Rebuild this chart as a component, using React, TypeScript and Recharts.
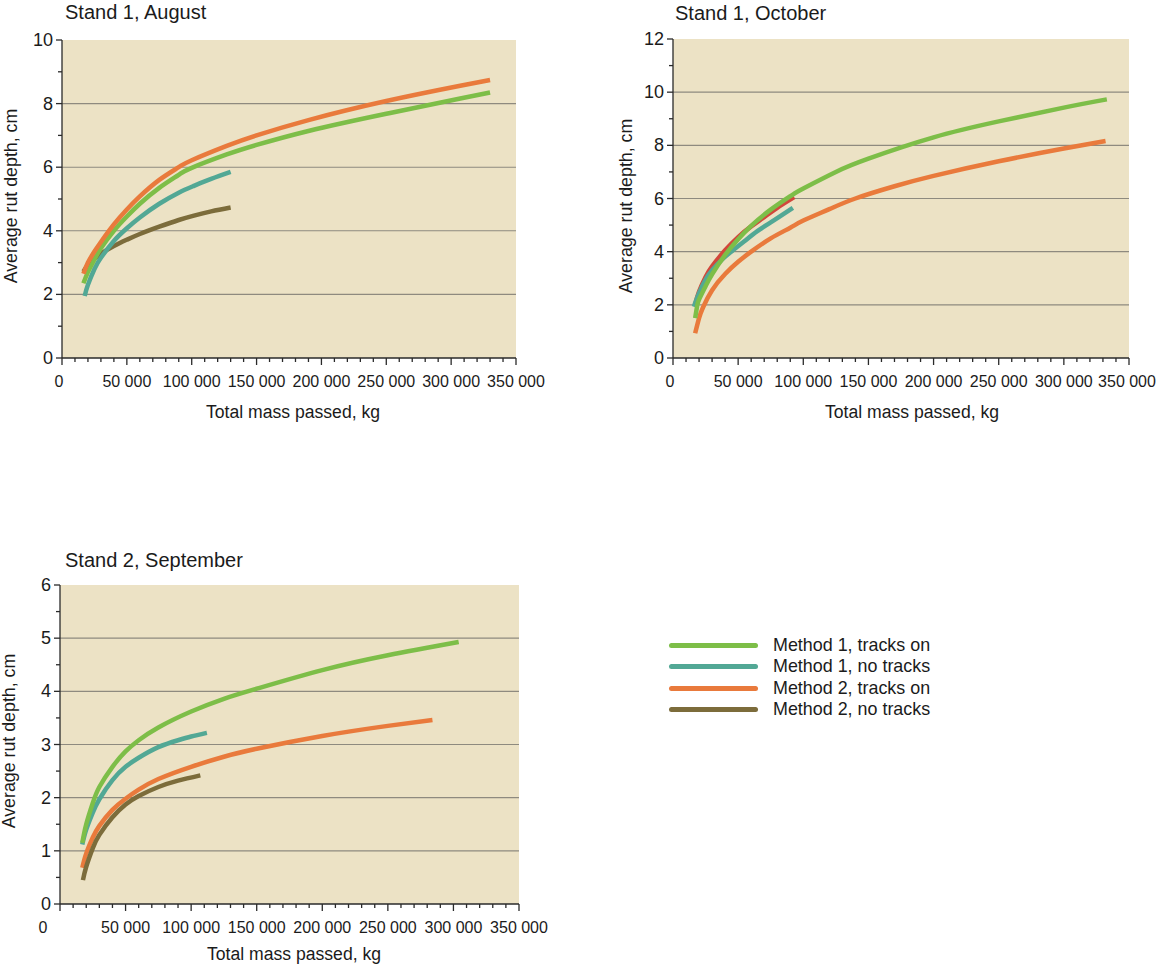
import React from 'react';
import { LineChart, Line, XAxis, YAxis, CartesianGrid, ReferenceLine } from 'recharts';

const FONT = '"Liberation Sans", Arial, Helvetica, sans-serif';
const TEXT = '#1b1b1b';
const AXIS = '#2a2a2a';
const GRID = '#8e8a7f';
const BG = '#ECE2C5';

const C_M1_ON = '#7DBE48';
const C_M1_NO = '#52A895';
const C_M2_ON = '#E97A3C';
const C_M2_NO = '#7C6C3B';
const C_EXTRA = '#D2473B';

// ---------- tick values ----------
const xTicks = [0, 10000, 20000, 30000, 40000, 50000, 60000, 70000, 80000, 90000, 100000, 110000, 120000, 130000, 140000, 150000, 160000, 170000, 180000, 190000, 200000, 210000, 220000, 230000, 240000, 250000, 260000, 270000, 280000, 290000, 300000, 310000, 320000, 330000, 340000, 350000];
const xMajorLabels: Record<number, string> = { 0: '0', 50000: '50 000', 100000: '100 000', 150000: '150 000', 200000: '200 000', 250000: '250 000', 300000: '300 000', 350000: '350 000' };

const yTicksAug = [0, 1, 2, 3, 4, 5, 6, 7, 8, 9, 10];
const yGridAug = [2, 4, 6, 8];
const yTicksOct = [0, 1, 2, 3, 4, 5, 6, 7, 8, 9, 10, 11, 12];
const yGridOct = [2, 4, 6, 8, 10];
const yTicksSep = [0, 0.5, 1, 1.5, 2, 2.5, 3, 3.5, 4, 4.5, 5, 5.5, 6];
const yGridSep = [1, 2, 3, 4, 5];

// ---------- series (total mass passed kg, rut depth cm) ----------
type Pt = [number, number];
const augM1On: Pt[] = [[16500, 2.35], [20000, 2.7], [25000, 3.1], [30000, 3.45], [40000, 4.0], [50000, 4.45], [60000, 4.85], [75000, 5.35], [90000, 5.76], [100000, 5.98], [127000, 6.4], [150000, 6.7], [190000, 7.14], [250000, 7.68], [307000, 8.16], [330000, 8.35]];
const augM1No: Pt[] = [[17500, 1.95], [20000, 2.3], [25000, 2.8], [30000, 3.15], [40000, 3.68], [50000, 4.08], [60000, 4.42], [75000, 4.85], [90000, 5.2], [101000, 5.4], [115000, 5.63], [130000, 5.85]];
const augM2On: Pt[] = [[16500, 2.65], [20000, 3.0], [25000, 3.35], [30000, 3.65], [40000, 4.2], [50000, 4.67], [60000, 5.08], [75000, 5.6], [90000, 6.0], [100000, 6.22], [127000, 6.67], [150000, 7.0], [190000, 7.48], [250000, 8.08], [307000, 8.56], [330000, 8.74]];
const augM2No: Pt[] = [[16500, 2.72], [20000, 2.92], [25000, 3.12], [30000, 3.28], [40000, 3.52], [50000, 3.72], [60000, 3.9], [75000, 4.13], [90000, 4.34], [101000, 4.47], [115000, 4.61], [130000, 4.73]];

const octM1On: Pt[] = [[17000, 1.5], [18500, 1.95], [20000, 2.2], [25000, 2.7], [30000, 3.15], [40000, 3.88], [50000, 4.47], [60000, 4.97], [75000, 5.58], [92000, 6.15], [100000, 6.38], [125000, 7.0], [150000, 7.5], [200000, 8.3], [250000, 8.9], [300000, 9.42], [333000, 9.73]];
const octM1No: Pt[] = [[16000, 1.93], [20000, 2.45], [25000, 2.95], [30000, 3.3], [38000, 3.72], [46000, 4.05], [55000, 4.4], [65000, 4.78], [75000, 5.1], [85000, 5.42], [92000, 5.65]];
const octExtra: Pt[] = [[17000, 2.0], [20000, 2.5], [25000, 3.05], [30000, 3.45], [40000, 4.05], [50000, 4.55], [60000, 4.95], [70000, 5.3], [80000, 5.65], [93000, 6.05]];
const octM2On: Pt[] = [[17000, 0.93], [20000, 1.5], [23000, 1.9], [30000, 2.55], [40000, 3.16], [50000, 3.62], [60000, 4.0], [75000, 4.5], [90000, 4.9], [100000, 5.17], [120000, 5.6], [140000, 6.0], [170000, 6.46], [200000, 6.85], [250000, 7.4], [300000, 7.88], [332000, 8.16]];

const sepM1On: Pt[] = [[17000, 1.15], [20000, 1.5], [25000, 1.9], [30000, 2.2], [40000, 2.58], [50000, 2.87], [60000, 3.08], [75000, 3.32], [100000, 3.62], [125000, 3.86], [150000, 4.05], [200000, 4.4], [250000, 4.68], [304000, 4.93]];
const sepM1No: Pt[] = [[17000, 1.12], [20000, 1.4], [25000, 1.72], [30000, 1.97], [40000, 2.33], [50000, 2.58], [60000, 2.75], [75000, 2.95], [90000, 3.08], [100000, 3.15], [112000, 3.22]];
const sepM2On: Pt[] = [[17000, 0.68], [20000, 0.95], [25000, 1.25], [30000, 1.47], [40000, 1.77], [50000, 1.98], [60000, 2.15], [75000, 2.35], [100000, 2.58], [125000, 2.77], [150000, 2.92], [200000, 3.16], [250000, 3.35], [284000, 3.46]];
const sepM2No: Pt[] = [[17500, 0.45], [20000, 0.7], [25000, 1.05], [30000, 1.3], [40000, 1.63], [50000, 1.87], [60000, 2.03], [75000, 2.2], [90000, 2.32], [107000, 2.42]];

const legendNames = ['Method 1, tracks on', 'Method 1, no tracks', 'Method 2, tracks on', 'Method 2, no tracks'];
const legendColors = [C_M1_ON, C_M1_NO, C_M2_ON, C_M2_NO];

const toRows = (pts: Pt[]) => pts.map(([x, y]) => ({ x, y }));

type Series = { pts: Pt[]; color: string; key: string };

const makeXTick = (zeroShift: number, lastShift: number) => (props: any) => {
  const { x, y, payload } = props;
  const v = payload.value as number;
  const label = xMajorLabels[v];
  const major = label !== undefined;
  const shift = v === 0 ? zeroShift : v === 350000 ? lastShift : 0;
  return (
    <g>
      <line x1={x} x2={x} y1={y} y2={y + (major ? 7 : 4)} stroke={AXIS} strokeWidth={1.3} />
      {major && (
        <text x={x + shift} y={y + 23} textAnchor="middle" dominantBaseline="central" fontSize={16} fill={TEXT} fontFamily={FONT}>
          {label}
        </text>
      )}
    </g>
  );
};

const makeYTick = (step: number) => (props: any) => {
  const { x, y, payload } = props;
  const v = payload.value as number;
  const major = Math.abs(v / step - Math.round(v / step)) < 1e-6;
  return (
    <g>
      <line x1={x - (major ? 6 : 4)} x2={x} y1={y} y2={y} stroke={AXIS} strokeWidth={1.3} />
      {major && (
        <text x={x - 9} y={y} textAnchor="end" dominantBaseline="central" fontSize={18} fill={TEXT} fontFamily={FONT}>
          {v}
        </text>
      )}
    </g>
  );
};

type PanelProps = {
  plotLeft: number; plotTop: number; plotW: number; plotH: number; rightPad: number;
  yMax: number; yTicks: number[]; yStep: number; grid: number[]; series: Series[]; zeroShift: number; lastShift: number;
};

const Panel = (p: PanelProps) => {
  const ML = 60, MT = 20, XH = 40;
  return (
    <div style={{ position: 'absolute', left: p.plotLeft - ML, top: p.plotTop - MT }}>
      <LineChart width={ML + p.plotW + p.rightPad} height={MT + p.plotH + XH} margin={{ top: MT, right: p.rightPad, bottom: 0, left: 0 }}>
        <CartesianGrid horizontal={false} vertical={false} fill={BG} stroke="none" />
        {p.grid.map((g) => (
          <ReferenceLine key={g} y={g} stroke={GRID} strokeWidth={1.1} />
        ))}
        <XAxis type="number" dataKey="x" domain={[0, 350000]} ticks={xTicks} interval={0} tickSize={0} tickMargin={0} height={XH}
          axisLine={{ stroke: AXIS, strokeWidth: 1.3 }} tickLine={false} tick={makeXTick(p.zeroShift, p.lastShift)} />
        <YAxis type="number" domain={[0, p.yMax]} ticks={p.yTicks} interval={0} tickSize={0} tickMargin={0} width={ML}
          axisLine={{ stroke: AXIS, strokeWidth: 1.3 }} tickLine={false} tick={makeYTick(p.yStep)} />
        {p.series.map((s) => (
          <Line key={s.key} data={toRows(s.pts)} dataKey="y" type="natural" stroke={s.color} strokeWidth={4.5}
            dot={false} activeDot={false} isAnimationActive={false} />
        ))}
      </LineChart>
    </div>
  );
};

const txt: React.CSSProperties = { position: 'absolute', fontFamily: FONT, color: TEXT, whiteSpace: 'nowrap', lineHeight: 1 };

const Title = ({ x, y, children }: any) => (
  <div style={{ ...txt, left: x, top: y, fontSize: 20, transform: 'translateY(-50%)' }}>{children}</div>
);
const XLabel = ({ x, y, children }: any) => (
  <div style={{ ...txt, left: x, top: y, fontSize: 17.6, transform: 'translate(-50%, -50%)' }}>{children}</div>
);
const YLabel = ({ x, y, children }: any) => (
  <div style={{ ...txt, left: x, top: y, fontSize: 17.8, transform: 'translate(-50%, -50%) rotate(-90deg)' }}>{children}</div>
);

export default function App() {
  return (
    <div style={{ position: 'absolute', left: 0, top: 0, width: 1156, height: 966, overflow: 'hidden', background: '#fff' }}>
      <Panel plotLeft={62} plotTop={40} plotW={454} plotH={318} rightPad={40} yMax={10} yTicks={yTicksAug} yStep={2} grid={yGridAug} zeroShift={-3} lastShift={0}
        series={[
          { key: 'a1', pts: augM2No, color: C_M2_NO },
          { key: 'a2', pts: augM1No, color: C_M1_NO },
          { key: 'a3', pts: augM1On, color: C_M1_ON },
          { key: 'a4', pts: augM2On, color: C_M2_ON },
        ]} />
      <Panel plotLeft={673} plotTop={39} plotW={456} plotH={319} rightPad={30} yMax={12} yTicks={yTicksOct} yStep={2} grid={yGridOct} zeroShift={-3} lastShift={-2}
        series={[
          { key: 'o1', pts: octM2On, color: C_M2_ON },
          { key: 'o2', pts: octExtra, color: C_EXTRA },
          { key: 'o3', pts: octM1No, color: C_M1_NO },
          { key: 'o4', pts: octM1On, color: C_M1_ON },
        ]} />
      <Panel plotLeft={60} plotTop={585} plotW={459} plotH={319} rightPad={40} yMax={6} yTicks={yTicksSep} yStep={1} grid={yGridSep} zeroShift={-17} lastShift={0}
        series={[
          { key: 's1', pts: sepM2On, color: C_M2_ON },
          { key: 's2', pts: sepM2No, color: C_M2_NO },
          { key: 's3', pts: sepM1No, color: C_M1_NO },
          { key: 's4', pts: sepM1On, color: C_M1_ON },
        ]} />

      <Title x={65} y={12}>Stand 1, August</Title>
      <Title x={675} y={13}>Stand 1, October</Title>
      <Title x={65} y={560}>Stand 2, September</Title>

      <XLabel x={293} y={413}>Total mass passed, kg</XLabel>
      <XLabel x={912} y={413}>Total mass passed, kg</XLabel>
      <XLabel x={294} y={955}>Total mass passed, kg</XLabel>

      <YLabel x={12} y={196}>Average rut depth, cm</YLabel>
      <YLabel x={627} y={206}>Average rut depth, cm</YLabel>
      <YLabel x={10} y={741}>Average rut depth, cm</YLabel>

      <div style={{ position: 'absolute', left: 669, top: 635 }}>
        {legendNames.map((n, i) => (
          <div key={n} style={{ display: 'flex', alignItems: 'center', height: 21.3 }}>
            <div style={{ width: 89, height: 5, background: legendColors[i], borderRadius: 2.5 }} />
            <span style={{ fontFamily: FONT, fontSize: 17.9, color: TEXT, marginLeft: 15, whiteSpace: 'nowrap' }}>{n}</span>
          </div>
        ))}
      </div>
    </div>
  );
}
